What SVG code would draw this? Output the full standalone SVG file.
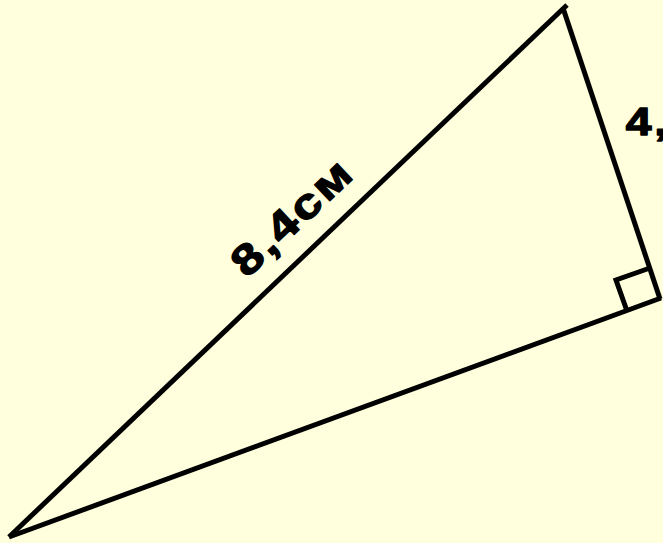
<svg xmlns="http://www.w3.org/2000/svg" width="663" height="543" viewBox="0 0 663 543">
<style>
.edge{fill:none;stroke:#000;stroke-width:5;stroke-linecap:butt;stroke-linejoin:miter}
.lbl{font-family:"Liberation Sans",Arial,sans-serif;font-weight:bold;fill:#000;stroke:#000;stroke-width:1.3;stroke-linejoin:round}
</style>
<rect width="663" height="543" fill="#FFFFDD"/>
<g id="triangle">
<line class="edge" x1="9" y1="537" x2="567" y2="5"/>
<line class="edge" x1="563" y1="8" x2="660" y2="299"/>
<line class="edge" x1="9" y1="537" x2="661" y2="298"/>
</g>
<g id="right-angle">
<polyline class="edge" points="627,311 616,280 650,268"/>
</g>
<g id="label-hyp">
<text class="lbl" font-size="42" letter-spacing="2.2" transform="translate(247,279) rotate(-43.3) scale(1.22,1)">8,4см</text>
</g>
<g id="label-leg">
<text class="lbl" font-size="38" letter-spacing="2.2" transform="translate(625.8,135) scale(1.22,1)">4,</text>
</g>
</svg>
